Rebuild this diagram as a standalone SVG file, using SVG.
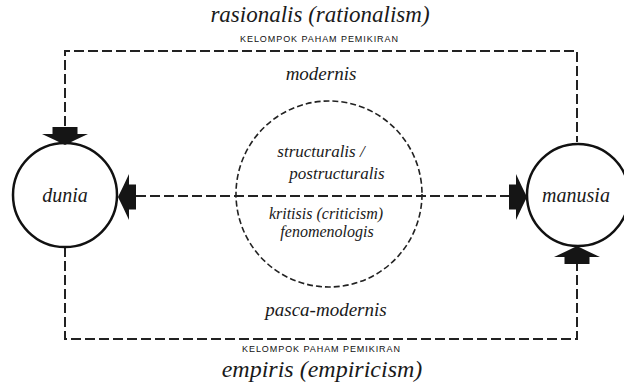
<svg xmlns="http://www.w3.org/2000/svg" width="624" height="387" viewBox="0 0 624 387">
  <style>
    .hand { font-family: "Liberation Serif", "DejaVu Serif", serif; font-style: italic; fill: #1a1a1a; text-anchor: middle; }
    .caps { font-family: "Liberation Sans", Arial, sans-serif; fill: #111; text-anchor: middle; }
    .dash { fill: none; stroke: #222; stroke-width: 2; stroke-dasharray: 10 4; }
    .ring { fill: #fff; stroke: #111; stroke-width: 2.5; }
    .arrow { fill: #151515; }
  </style>
  <defs>
    <!-- block arrow, tip at origin, pointing along +x -->
    <g id="blockArrow">
      <rect x="-18" y="-12.5" width="8" height="25"/>
      <path d="M-11,-23 Q-5,-10 0,0 Q-5,10 -11,23 Z"/>
    </g>
  </defs>
  <rect width="624" height="387" fill="#fff"/>

  <!-- connectors -->
  <g id="connectors">
    <path class="dash" d="M65,126 V51 H577 V142"/>
    <path class="dash" d="M65,247 V339 H577 V264"/>
    <line class="dash" x1="136" y1="196" x2="509" y2="196"/>
    <circle cx="329" cy="194" r="93" fill="none" stroke="#222" stroke-width="1.6" stroke-dasharray="6 3"/>
  </g>

  <!-- central group of schools -->
  <g id="center">
    <text class="hand" x="321" y="157" font-size="17">structuralis /</text>
    <text class="hand" x="337" y="179" font-size="17">postructuralis</text>
    <text class="hand" x="326" y="219" font-size="16">kritisis (criticism)</text>
    <text class="hand" x="327" y="237" font-size="16">fenomenologis</text>
  </g>

  <g id="dunia">
    <circle class="ring" cx="65" cy="195" r="52"/>
    <text class="hand" x="65" y="202" font-size="20">dunia</text>
  </g>

  <g id="manusia">
    <circle class="ring" cx="578" cy="195" r="51"/>
    <text class="hand" x="576" y="202" font-size="20">manusia</text>
  </g>

  <!-- arrowheads onto the circles -->
  <g id="arrows" class="arrow">
    <use href="#blockArrow" transform="translate(65,145) rotate(90)"/>
    <use href="#blockArrow" transform="translate(118,197) rotate(180)"/>
    <use href="#blockArrow" transform="translate(527,197)"/>
    <use href="#blockArrow" transform="translate(577,246) rotate(-90)"/>
  </g>

  <g id="rationalism">
    <text class="hand" x="320" y="22" font-size="23">rasionalis (rationalism)</text>
    <text class="caps" x="319" y="42" font-size="9" textLength="158" lengthAdjust="spacing">KELOMPOK PAHAM PEMIKIRAN</text>
  </g>

  <g id="modernis">
    <text class="hand" x="321" y="80" font-size="19">modernis</text>
  </g>

  <g id="pasca-modernis">
    <text class="hand" x="326" y="316" font-size="19">pasca-modernis</text>
  </g>

  <g id="empiricism">
    <text class="caps" x="321" y="352" font-size="9" textLength="158" lengthAdjust="spacing">KELOMPOK PAHAM PEMIKIRAN</text>
    <text class="hand" x="322" y="377" font-size="24">empiris (empiricism)</text>
  </g>
</svg>
